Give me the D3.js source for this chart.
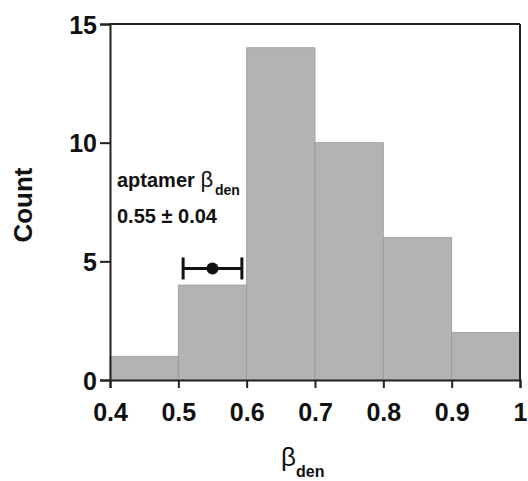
<!DOCTYPE html>
<html>
<head>
<meta charset="utf-8">
<script src="https://cdn.jsdelivr.net/npm/d3@7"></script>
<style>
  body { margin: 0; background: #fff; }
  svg text { font-family: "Liberation Sans", Arial, sans-serif; font-weight: bold; fill: #111; }
</style>
</head>
<body>
<div id="chart"></div>
<script>
'use strict';

// histogram bins (lower edge, upper edge) and counts
var binStart = [0.4, 0.5, 0.6, 0.7, 0.8, 0.9];
var binEnd   = [0.5, 0.6, 0.7, 0.8, 0.9, 1.0];
var counts   = [1, 4, 14, 10, 6, 2];

var xTicks = [0.4, 0.5, 0.6, 0.7, 0.8, 0.9, 1.0];
var yTicks = [0, 5, 10, 15];

// aptamer point with error bar
var aptamerMean = 0.55;
var aptamerErr = 0.043;
var aptamerY = 4.7;

var W = 528, H = 481;
var margin = {top: 24, right: 8, bottom: 101, left: 110};

var svg = d3.select('#chart').append('svg')
  .attr('width', W).attr('height', H);

var x = d3.scaleLinear().domain([0.4, 1.0]).range([margin.left, W - margin.right]);
var y = d3.scaleLinear().domain([0, 15]).range([H - margin.bottom, margin.top]);

var bins = binStart.map(function(d, i) { return {x0: d, x1: binEnd[i], n: counts[i]}; });

svg.append('g').selectAll('rect')
  .data(bins)
  .enter()
  .append('rect')
    .attr('x', function(d) { return x(d.x0); })
    .attr('y', function(d) { return y(d.n); })
    .attr('width', function(d) { return x(d.x1) - x(d.x0); })
    .attr('height', function(d) { return y(0) - y(d.n); })
    .attr('fill', '#b3b3b3')
    .attr('stroke', '#999')
    .attr('stroke-width', 0.8);

// frame: top and right lines
svg.append('line')
  .attr('x1', x(0.4)).attr('x2', x(1.0))
  .attr('y1', y(15)).attr('y2', y(15))
  .attr('stroke', '#222').attr('stroke-width', 2);
svg.append('line')
  .attr('x1', x(1.0)).attr('x2', x(1.0))
  .attr('y1', y(15)).attr('y2', y(0))
  .attr('stroke', '#222').attr('stroke-width', 2);

var xAxis = svg.append('g')
  .attr('transform', 'translate(0,' + y(0) + ')')
  .call(d3.axisBottom(x).tickValues(xTicks)
    .tickFormat(function(d) { return d === 1 ? '1' : d3.format('.1f')(d); })
    .tickSize(8).tickPadding(15));

var yAxis = svg.append('g')
  .attr('transform', 'translate(' + x(0.4) + ',0)')
  .call(d3.axisLeft(y).tickValues(yTicks).tickSize(10).tickPadding(3));

[xAxis, yAxis].forEach(function(ax) {
  ax.select('.domain').attr('stroke', '#222').attr('stroke-width', 2);
  ax.selectAll('.tick line').attr('stroke', '#222').attr('stroke-width', 2);
  ax.selectAll('.tick text')
    .attr('font-size', 25)
    .attr('font-family', '"Liberation Sans", Arial, sans-serif')
    .attr('font-weight', 'bold')
    .attr('fill', '#111');
});
yAxis.selectAll('.tick text').attr('dy', '0.36em');

// error bar
var eb = svg.append('g').attr('stroke', '#111').attr('stroke-width', 3);
eb.append('line')
  .attr('x1', x(aptamerMean - aptamerErr)).attr('x2', x(aptamerMean + aptamerErr))
  .attr('y1', y(aptamerY)).attr('y2', y(aptamerY));
[aptamerMean - aptamerErr, aptamerMean + aptamerErr].forEach(function(v) {
  eb.append('line')
    .attr('x1', x(v)).attr('x2', x(v))
    .attr('y1', y(aptamerY) - 11).attr('y2', y(aptamerY) + 11);
});
svg.append('circle')
  .attr('cx', x(aptamerMean)).attr('cy', y(aptamerY))
  .attr('r', 6).attr('fill', '#111');

// annotation
var ann = svg.append('text').attr('x', 117).attr('y', 187).attr('font-size', 20);
ann.append('tspan').text('aptamer ');
ann.append('tspan').attr('font-weight', 'normal').attr('font-size', 22).text('\u03b2');
ann.append('tspan').attr('font-size', 14).attr('dx', 2).attr('dy', 8).text('den');
svg.append('text').attr('x', 117).attr('y', 223).attr('font-size', 20)
  .text('0.55 \u00b1 0.04');

// axis titles
svg.append('text')
  .attr('transform', 'translate(32,205) rotate(-90)')
  .attr('text-anchor', 'middle')
  .attr('font-size', 26)
  .text('Count');

var xt = svg.append('text').attr('x', 281).attr('y', 466).attr('font-size', 26);
xt.append('tspan').attr('font-weight', 'normal').text('\u03b2');
xt.append('tspan').attr('font-size', 16).attr('dy', 11).text('den');
</script>
</body>
</html>
